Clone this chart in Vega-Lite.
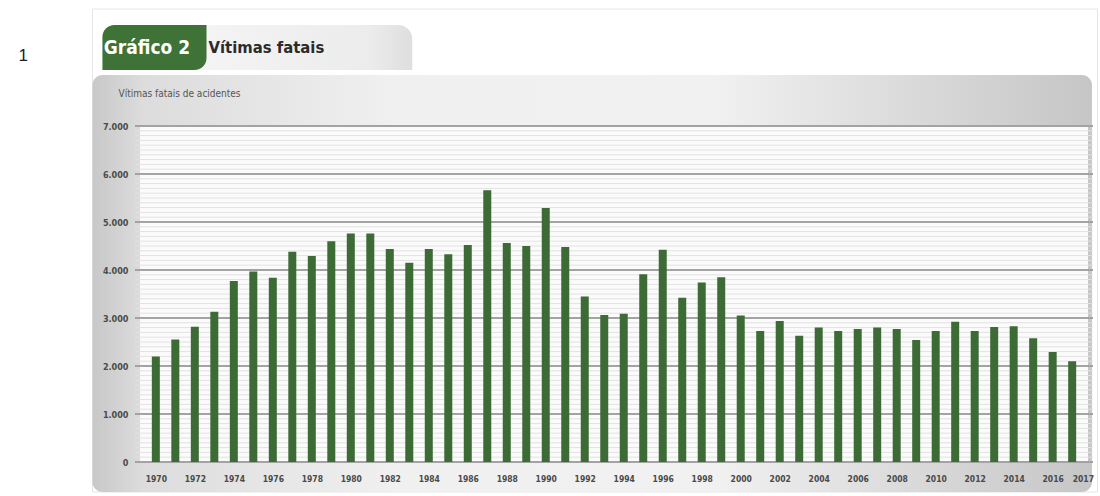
{
  "$schema": "https://vega.github.io/schema/vega-lite/v6.json",
  "autosize": {"type": "none"},
  "width": 958,
  "height": 336,
  "padding": {"left": 135, "top": 126, "right": 7, "bottom": 34},
  "background": "#ffffff",
  "config": {
    "view": {"stroke": null},
    "font": "DejaVu Sans Condensed"
  },
  "resolve": {"axis": {"x": "independent", "y": "independent"}},
  "datasets": {
    "vitimas": [
      {"ano": 1970, "vitimas": 2200}, {"ano": 1971, "vitimas": 2550}, {"ano": 1972, "vitimas": 2820},
      {"ano": 1973, "vitimas": 3130}, {"ano": 1974, "vitimas": 3770}, {"ano": 1975, "vitimas": 3970},
      {"ano": 1976, "vitimas": 3840}, {"ano": 1977, "vitimas": 4380}, {"ano": 1978, "vitimas": 4290},
      {"ano": 1979, "vitimas": 4600}, {"ano": 1980, "vitimas": 4760}, {"ano": 1981, "vitimas": 4760},
      {"ano": 1982, "vitimas": 4440}, {"ano": 1983, "vitimas": 4150}, {"ano": 1984, "vitimas": 4440},
      {"ano": 1985, "vitimas": 4330}, {"ano": 1986, "vitimas": 4520}, {"ano": 1987, "vitimas": 5660},
      {"ano": 1988, "vitimas": 4560}, {"ano": 1989, "vitimas": 4500}, {"ano": 1990, "vitimas": 5290},
      {"ano": 1991, "vitimas": 4480}, {"ano": 1992, "vitimas": 3450}, {"ano": 1993, "vitimas": 3060},
      {"ano": 1994, "vitimas": 3090}, {"ano": 1995, "vitimas": 3910}, {"ano": 1996, "vitimas": 4420},
      {"ano": 1997, "vitimas": 3420}, {"ano": 1998, "vitimas": 3740}, {"ano": 1999, "vitimas": 3850},
      {"ano": 2000, "vitimas": 3050}, {"ano": 2001, "vitimas": 2730}, {"ano": 2002, "vitimas": 2940},
      {"ano": 2003, "vitimas": 2630}, {"ano": 2004, "vitimas": 2800}, {"ano": 2005, "vitimas": 2730},
      {"ano": 2006, "vitimas": 2770}, {"ano": 2007, "vitimas": 2800}, {"ano": 2008, "vitimas": 2770},
      {"ano": 2009, "vitimas": 2540}, {"ano": 2010, "vitimas": 2730}, {"ano": 2011, "vitimas": 2920},
      {"ano": 2012, "vitimas": 2730}, {"ano": 2013, "vitimas": 2810}, {"ano": 2014, "vitimas": 2830},
      {"ano": 2015, "vitimas": 2580}, {"ano": 2016, "vitimas": 2290}, {"ano": 2017, "vitimas": 2100}
    ],
    "grade": [
      {"v": 0}, {"v": 1000}, {"v": 2000}, {"v": 3000}, {"v": 4000}, {"v": 5000}, {"v": 6000}, {"v": 7000}
    ],
    "subgrade": [
      {"v": 100}, {"v": 200}, {"v": 300}, {"v": 400}, {"v": 500}, {"v": 600}, {"v": 700}, {"v": 800}, {"v": 900},
      {"v": 1100}, {"v": 1200}, {"v": 1300}, {"v": 1400}, {"v": 1500}, {"v": 1600}, {"v": 1700}, {"v": 1800}, {"v": 1900},
      {"v": 2100}, {"v": 2200}, {"v": 2300}, {"v": 2400}, {"v": 2500}, {"v": 2600}, {"v": 2700}, {"v": 2800}, {"v": 2900},
      {"v": 3100}, {"v": 3200}, {"v": 3300}, {"v": 3400}, {"v": 3500}, {"v": 3600}, {"v": 3700}, {"v": 3800}, {"v": 3900},
      {"v": 4100}, {"v": 4200}, {"v": 4300}, {"v": 4400}, {"v": 4500}, {"v": 4600}, {"v": 4700}, {"v": 4800}, {"v": 4900},
      {"v": 5100}, {"v": 5200}, {"v": 5300}, {"v": 5400}, {"v": 5500}, {"v": 5600}, {"v": 5700}, {"v": 5800}, {"v": 5900},
      {"v": 6100}, {"v": 6200}, {"v": 6300}, {"v": 6400}, {"v": 6500}, {"v": 6600}, {"v": 6700}, {"v": 6800}, {"v": 6900}
    ]
  },
  "layer": [
    {
      "description": "outer frame of the figure",
      "data": {"values": [{}]},
      "mark": {"type": "rect", "fill": null, "stroke": "#e6e6e6", "strokeWidth": 1},
      "encoding": {
        "x": {"datum": 1966.752, "type": "quantitative", "scale": {"domain": [1969.188, 2017.812], "nice": false, "zero": false}, "axis": null},
        "x2": {"datum": 2018.3},
        "y": {"datum": 9437.5, "type": "quantitative", "scale": {"domain": [0, 7000], "nice": false}, "axis": null},
        "y2": {"datum": -625}
      }
    },
    {
      "description": "gray panel behind the chart",
      "data": {"values": [{}]},
      "mark": {
        "type": "rect",
        "cornerRadius": 10,
        "color": {
          "gradient": "linear", "x1": 0, "x2": 1, "y1": 0, "y2": 0,
          "stops": [
            {"offset": 0, "color": "#c8c8c8"},
            {"offset": 0.05, "color": "#dcdcdc"},
            {"offset": 0.3, "color": "#f0f0f0"},
            {"offset": 0.62, "color": "#f1f1f1"},
            {"offset": 0.82, "color": "#dadada"},
            {"offset": 1, "color": "#c6c6c6"}
          ]
        }
      },
      "encoding": {
        "x": {"datum": 1966.752, "type": "quantitative", "scale": {"domain": [1969.188, 2017.812], "nice": false, "zero": false}, "axis": null},
        "x2": {"datum": 2018.015},
        "y": {"datum": 8062.5, "type": "quantitative", "scale": {"domain": [0, 7000], "nice": false}, "axis": null},
        "y2": {"datum": -625}
      }
    },
    {
      "description": "light tab",
      "data": {"values": [{}]},
      "mark": {
        "type": "rect",
        "cornerRadiusTopRight": 14,
        "color": {
          "gradient": "linear", "x1": 0, "x2": 1, "y1": 0, "y2": 0,
          "stops": [
            {"offset": 0, "color": "#f4f4f4"},
            {"offset": 0.8, "color": "#ececec"},
            {"offset": 1, "color": "#dedede"}
          ]
        }
      },
      "encoding": {
        "x": {"datum": 1972.2, "type": "quantitative", "scale": {"domain": [1969.188, 2017.812], "nice": false, "zero": false}, "axis": null},
        "x2": {"datum": 1983.15},
        "y": {"datum": 9104, "type": "quantitative", "scale": {"domain": [0, 7000], "nice": false}, "axis": null},
        "y2": {"datum": 8167}
      }
    },
    {
      "description": "green tab",
      "data": {"values": [{}]},
      "mark": {"type": "rect", "color": "#3e7236", "cornerRadiusTopLeft": 12, "cornerRadiusBottomRight": 12},
      "encoding": {
        "x": {"datum": 1967.26, "type": "quantitative", "scale": {"domain": [1969.188, 2017.812], "nice": false, "zero": false}, "axis": null},
        "x2": {"datum": 1972.6},
        "y": {"datum": 9104, "type": "quantitative", "scale": {"domain": [0, 7000], "nice": false}, "axis": null},
        "y2": {"datum": 8167}
      }
    },
    {
      "description": "tab label on green",
      "data": {"values": [{"rotulo": "Gráfico 2", "x": 1967.33, "y": 8620}]},
      "mark": {"type": "text", "align": "left", "baseline": "middle", "color": "#ffffff", "font": "DejaVu Sans Condensed", "fontWeight": "bold", "fontSize": 19},
      "encoding": {
        "x": {"field": "x", "type": "quantitative", "scale": {"domain": [1969.188, 2017.812], "nice": false, "zero": false}, "axis": null},
        "y": {"field": "y", "type": "quantitative", "scale": {"domain": [0, 7000], "nice": false}, "axis": null},
        "text": {"field": "rotulo"}
      }
    },
    {
      "description": "chart title on light tab",
      "data": {"values": [{"rotulo": "Vítimas fatais", "x": 1972.7, "y": 8620}]},
      "mark": {"type": "text", "align": "left", "baseline": "middle", "color": "#2b2b2b", "font": "DejaVu Sans Condensed", "fontWeight": "bold", "fontSize": 16.5},
      "encoding": {
        "x": {"field": "x", "type": "quantitative", "scale": {"domain": [1969.188, 2017.812], "nice": false, "zero": false}, "axis": null},
        "y": {"field": "y", "type": "quantitative", "scale": {"domain": [0, 7000], "nice": false}, "axis": null},
        "text": {"field": "rotulo"}
      }
    },
    {
      "description": "page number",
      "data": {"values": [{"rotulo": "1", "x": 1962.95, "y": 8458}]},
      "mark": {"type": "text", "align": "left", "baseline": "middle", "color": "#222222", "font": "Liberation Sans", "fontSize": 17},
      "encoding": {
        "x": {"field": "x", "type": "quantitative", "scale": {"domain": [1969.188, 2017.812], "nice": false, "zero": false}, "axis": null},
        "y": {"field": "y", "type": "quantitative", "scale": {"domain": [0, 7000], "nice": false}, "axis": null},
        "text": {"field": "rotulo"}
      }
    },
    {
      "description": "white plot area",
      "data": {"values": [{}]},
      "mark": {"type": "rect", "color": "#fbfbfb"},
      "encoding": {
        "x": {"datum": 1969.188, "type": "quantitative", "scale": {"domain": [1969.188, 2017.812], "nice": false, "zero": false}, "axis": null},
        "x2": {"datum": 2017.812},
        "y": {"datum": 0, "type": "quantitative", "scale": {"domain": [0, 7000], "nice": false}, "axis": null},
        "y2": {"datum": 6980}
      }
    },
    {
      "description": "fine horizontal lines",
      "data": {"name": "subgrade"},
      "mark": {"type": "rule", "color": "#e2e2e2", "strokeWidth": 1},
      "encoding": {
        "y": {"field": "v", "type": "quantitative", "scale": {"domain": [0, 7000], "nice": false}, "axis": null}
      }
    },
    {
      "description": "main gridlines",
      "data": {"name": "grade"},
      "mark": {"type": "rule", "color": "#a3a3a3", "strokeWidth": 2.2},
      "encoding": {
        "y": {"field": "v", "type": "quantitative", "scale": {"domain": [0, 7000], "nice": false}, "axis": null}
      }
    },
    {
      "description": "fatalities per year",
      "data": {"name": "vitimas"},
      "mark": {"type": "bar", "color": "#3c6b35", "width": 8},
      "encoding": {
        "x": {
          "field": "ano", "type": "quantitative",
          "scale": {"domain": [1969.188, 2017.812], "nice": false, "zero": false},
          "axis": {
            "orient": "bottom",
            "values": [1970, 1972, 1974, 1976, 1978, 1980, 1982, 1984, 1986, 1988, 1990, 1992, 1994, 1996, 1998, 2000, 2002, 2004, 2006, 2008, 2010, 2012, 2014, 2016, 2017],
            "format": "d", "title": null, "grid": false, "ticks": false, "domain": false,
            "labelFont": "DejaVu Sans Condensed", "labelFontWeight": "bold", "labelFontSize": 8.5,
            "labelAlign": {"condition": {"test": "datum.value == 2017", "value": "left"}, "value": "center"},
            "labelColor": "#4a4a4a", "labelPadding": 12, "labelFlush": false, "labelOverlap": false,
            "zindex": 2
          }
        },
        "y": {
          "field": "vitimas", "type": "quantitative",
          "scale": {"domain": [0, 7000], "nice": false},
          "axis": {
            "orient": "left",
            "values": [0, 1000, 2000, 3000, 4000, 5000, 6000, 7000],
            "labelExpr": "replace(format(datum.value, ','), ',', '.')",
            "grid": false, "ticks": false, "domain": false,
            "labelFont": "DejaVu Sans Condensed", "labelFontWeight": "bold", "labelFontSize": 9,
            "labelColor": "#4a4a4a", "labelPadding": 7,
            "title": "Vítimas fatais de acidentes",
            "titleFont": "DejaVu Sans Condensed", "titleFontWeight": "normal", "titleFontSize": 10,
            "titleColor": "#555555", "titleAngle": 0, "titleAlign": "left", "titleBaseline": "middle",
            "titleX": -17, "titleY": -33,
            "zindex": 2
          }
        }
      }
    }
  ]
}
